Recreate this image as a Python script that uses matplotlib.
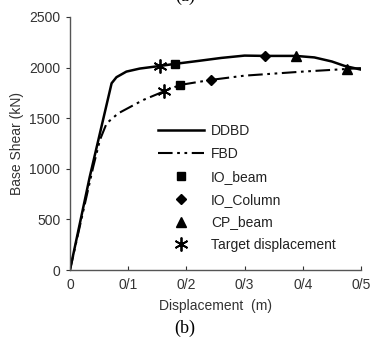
import matplotlib
matplotlib.use("Agg")
import matplotlib.pyplot as plt
from matplotlib.ticker import FuncFormatter

plt.rcParams['font.family'] = ['Liberation Sans', 'DejaVu Sans']

# pushover curves (displacement m, base shear kN)
ddbd_x = [0.0, 0.034, 0.0716, 0.08, 0.097, 0.12, 0.155, 0.18, 0.22, 0.26, 0.3, 0.335, 0.388, 0.42, 0.45, 0.472, 0.503]
ddbd_y = [0, 920, 1845, 1905, 1960, 1990, 2016, 2036, 2065, 2095, 2118, 2115, 2115, 2100, 2060, 2016, 1976]
fbd_x = [0.0, 0.04, 0.0515, 0.063, 0.083, 0.126, 0.162, 0.189, 0.242, 0.3, 0.35, 0.4, 0.476, 0.5]
fbd_y = [0, 1020, 1285, 1449, 1548, 1680, 1766, 1828, 1878, 1920, 1940, 1960, 1986, 1995]

# performance points
io_beam_x = [0.180, 0.189]
io_beam_y = [2036, 1828]
io_col_x = [0.335, 0.242]
io_col_y = [2115, 1878]
cp_beam_x = [0.388, 0.476]
cp_beam_y = [2115, 1986]
target_x = [0.155, 0.162]
target_y = [2016, 1766]

xticks = [0, 0.1, 0.2, 0.3, 0.4, 0.5]
yticks = [0, 500, 1000, 1500, 2000, 2500]

fig = plt.figure(figsize=(3.74, 3.45), dpi=100)
ax = fig.add_axes([0.187, 0.217, 0.778, 0.734])

ax.plot(ddbd_x, ddbd_y, color='black', lw=1.8, label='DDBD')
ax.plot(fbd_x, fbd_y, color='black', lw=1.5, dashes=(7, 2.2, 1.3, 2.2, 1.3, 2.2), label='FBD')
ax.plot(io_beam_x, io_beam_y, ls='none', marker='s', ms=6, color='black', label='IO_beam')
ax.plot(io_col_x, io_col_y, ls='none', marker='D', ms=5.5, color='black', label='IO_Column')
ax.plot(cp_beam_x, cp_beam_y, ls='none', marker='^', ms=6.5, color='black', label='CP_beam')
ax.plot(target_x, target_y, ls='none', marker=(6, 2, 0), ms=10, mew=1.3, color='black',
        label='Target displacement')

ax.set_xlim(0, 0.5)
ax.set_ylim(0, 2500)
ax.set_xticks(xticks)
ax.set_yticks(yticks)
ax.xaxis.set_major_formatter(FuncFormatter(lambda v, p: ('%g' % round(v, 2)).replace('.', '/')))
ax.tick_params(axis='x', direction='in', length=3, labelsize=10, colors='#333', pad=6)
ax.tick_params(axis='y', direction='out', length=3, labelsize=10, colors='#333', pad=4)
for s in ['top', 'right']:
    ax.spines[s].set_visible(False)
for s in ['left', 'bottom']:
    ax.spines[s].set_color('#555')
    ax.spines[s].set_linewidth(1.0)

ax.set_xlabel('Displacement  (m)', fontsize=10, color='#333', labelpad=5)
ax.set_ylabel('Base Shear (kN)', fontsize=10, color='#333', labelpad=4)

ax.legend(loc='upper left', bbox_to_anchor=(0.26, 0.627), frameon=False, fontsize=10,
          handlelength=3.3, handletextpad=0.5, labelspacing=0.64, labelcolor='#222')

fig.text(0.495, 0.048, '(b)', family=['Liberation Serif', 'DejaVu Serif'], fontsize=13,
         ha='center', va='center')
fig.text(0.495, 1.012, '(a)', family=['Liberation Serif', 'DejaVu Serif'], fontsize=13,
         ha='center', va='center')

fig.savefig('out.png', dpi=100)
